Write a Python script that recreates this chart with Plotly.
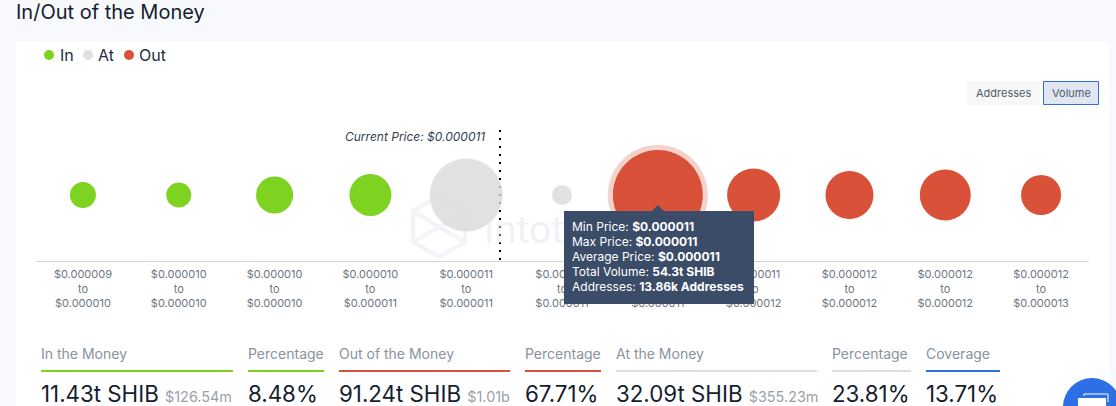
import math

import plotly.graph_objects as go

W, H = 1116, 406

bin_labels = [
    "$0.000009<br>to<br>$0.000010",
    "$0.000010<br>to<br>$0.000010",
    "$0.000010<br>to<br>$0.000010",
    "$0.000010<br>to<br>$0.000011",
    "$0.000011<br>to<br>$0.000011",
    "$0.000011<br>to<br>$0.000011",
    "$0.000011<br>to<br>$0.000011",
    "$0.000011<br>to<br>$0.000012",
    "$0.000012<br>to<br>$0.000012",
    "$0.000012<br>to<br>$0.000012",
    "$0.000012<br>to<br>$0.000013",
]
# volume per price bin, trillions of SHIB
volumes = [0.88, 0.70, 4.2, 6.5, 32.0, 0.1, 54.3, 13.4, 9.9, 11.9, 5.5]
groups = ["In", "In", "In", "In", "At", "At", "Out", "Out", "Out", "Out", "Out"]
hovered_bin = 6

group_colors = {"In": "#7ed321", "At": "rgba(217,217,217,0.78)", "Out": "#d95138"}

tooltip_lines = [
    ("Min Price: ", "$0.000011"),
    ("Max Price: ", "$0.000011"),
    ("Average Price: ", "$0.000011"),
    ("Total Volume: ", "54.3t SHIB"),
    ("Addresses: ", "13.86k Addresses"),
]

# label, value, usd, colour, left and right end of the underline
stats = [
    ("In the Money", "11.43t SHIB", "$126.54m", "#7ed321", 41, 233),
    ("Percentage", "8.48%", "", "#7ed321", 248, 324),
    ("Out of the Money", "91.24t SHIB", "$1.01b", "#d95138", 339, 510),
    ("Percentage", "67.71%", "", "#d95138", 525, 601),
    ("At the Money", "32.09t SHIB", "$355.23m", "#dddddd", 616, 817),
    ("Percentage", "23.81%", "", "#dddddd", 832, 911),
    ("Coverage", "13.71%", "", "#2e6fe6", 926, 1000),
]


def px_x(x):
    return x / W


def px_y(y):
    return 1 - y / H


def bubble_size(v):
    return 16.7 + 9.94 * math.sqrt(v)


def add_text(fig, x, y, text, size, color, anchor="left", **font):
    fig.add_annotation(
        x=px_x(x), y=px_y(y), xref="paper", yref="paper",
        text=text, showarrow=False, xanchor=anchor, yanchor="middle",
        align=anchor, font=dict(size=size, color=color, family="Inter", **font),
    )


def add_rect(fig, x0, y0, x1, y1, fill, line=None, layer="below"):
    fig.add_shape(
        type="rect", xref="paper", yref="paper", layer=layer,
        x0=px_x(x0), x1=px_x(x1), y0=px_y(y0), y1=px_y(y1),
        fillcolor=fill, line=dict(color=line, width=1) if line else dict(width=0),
    )


def add_path(fig, points, fill="rgba(0,0,0,0)", line=None, layer="below", close=True):
    path = "M " + " L ".join(f"{px_x(x):.5f},{px_y(y):.5f}" for x, y in points)
    if close:
        path += " Z"
    fig.add_shape(
        type="path", xref="paper", yref="paper", layer=layer, path=path,
        fillcolor=fill, line=line or dict(width=0),
    )


fig = go.Figure()

for group in ["In", "At", "Out"]:
    idx = [i for i, g in enumerate(groups) if g == group]
    fig.add_trace(go.Scatter(
        x=idx,
        y=[0] * len(idx),
        mode="markers",
        name=group,
        showlegend=False,
        marker=dict(
            color=group_colors[group],
            opacity=1,
            size=[bubble_size(volumes[i]) for i in idx],
            # stroke is centred on the edge, so 10 leaves a 5px ring outside
            line=dict(
                color="rgba(217,81,56,0.25)",
                width=[10 if i == hovered_bin else 0 for i in idx],
            ),
        ),
    ))

fig.update_layout(
    width=W, height=H,
    margin=dict(l=0, r=0, t=0, b=0),
    paper_bgcolor="#f8f9fd",
    plot_bgcolor="rgba(0,0,0,0)",
    font=dict(family="Inter"),
    xaxis=dict(
        domain=[px_x(36), px_x(1089)],
        range=[-0.49, 10.5],
        tickmode="array",
        tickvals=list(range(len(bin_labels))),
        ticktext=bin_labels,
        tickfont=dict(size=11, color="#6e7680"),
        ticks="outside", ticklen=3, tickcolor="rgba(0,0,0,0)",
        showgrid=False, zeroline=False,
        showline=True, linecolor="#ccd6eb", linewidth=1,
        tickangle=0,
    ),
    yaxis=dict(
        domain=[px_y(261), px_y(129)],
        range=[-1, 1],
        visible=False,
    ),
)

# white card
add_rect(fig, 16, 42, 1109, 406, "#ffffff")

# watermark
logo_line = dict(color="#f3f4f8", width=4)
add_path(fig, [(439, 196), (465, 211), (465, 242), (439, 257), (413, 242), (413, 211)], line=logo_line)
add_path(fig, [(413, 211), (439, 227), (465, 211)], line=logo_line, close=False)
add_path(fig, [(413, 242), (439, 227), (465, 242)], line=logo_line, close=False)
add_text(fig, 482, 229, "Intot", 38, "rgba(225,228,240,0.5)")

# legend
for x, text_x, group in zip([49, 88, 129], [58, 96, 137], ["In", "At", "Out"]):
    fig.add_shape(
        type="circle", xref="paper", yref="paper",
        x0=px_x(x - 5), x1=px_x(x + 5), y0=px_y(60), y1=px_y(50),
        fillcolor=group_colors[group], line=dict(width=0),
    )
    add_text(fig, text_x, 55, group, 16, "#1f2d3d")

# page title
add_text(fig, 14, 12, "In/Out of the Money", 20, "#14202e")

# toggle buttons
add_rect(fig, 967, 81, 1040, 105, "#f7f7f7")
add_text(fig, 1003, 93, "Addresses", 11, "#4f5b6b", anchor="center")
add_rect(fig, 1043.5, 81.5, 1098.5, 104.5, "#e1e6f2", line="#2e6fe6")
add_text(fig, 1071, 93, "Volume", 11, "#4f5b6b", anchor="center")

# current price marker, under the bubbles
fig.add_shape(
    type="line", xref="paper", yref="paper", layer="below",
    x0=px_x(500), x1=px_x(500), y0=px_y(130), y1=px_y(261),
    line=dict(color="#000000", width=2, dash="2px,6px"),
)
add_text(fig, 487, 136, "Current Price: $0.000011", 12, "#333f4d", anchor="right", style="italic")

# tooltip
add_path(
    fig,
    [(564, 211), (652, 211), (658, 205), (664, 211), (754, 211), (754, 304), (564, 304)],
    fill="#3a4c68", layer="above",
)
for i, (name, value) in enumerate(tooltip_lines):
    add_text(fig, 570, 226 + i * 15, f"{name}<b>{value}</b>", 12, "#ffffff")

# stats row
for label, value, usd, color, x0, x1 in stats:
    add_text(fig, x0 - 2, 353, label, 14, "#8a929c")
    add_rect(fig, x0, 370, x1, 372, color)
    text = value
    if usd:
        text += f' <span style="font-size:14.4px;color:#9aa1aa">{usd}</span>'
    add_text(fig, x0 - 2, 393, text, 22.3, "#14202e")

# chat button, cut off by the window
fig.add_shape(
    type="circle", xref="paper", yref="paper", layer="above",
    x0=px_x(1063), x1=px_x(1121), y0=px_y(436), y1=px_y(378),
    fillcolor="#2e6fe6", line=dict(width=0),
)
add_path(fig, [(1078, 398), (1106, 398), (1106, 406), (1078, 406)], fill="#ffffff", layer="above")
add_path(
    fig, [(1084, 396), (1084, 394), (1108, 394), (1108, 402)],
    line=dict(color="#ffffff", width=1), layer="above", close=False,
)

fig.write_html(
    "out.html",
    config={"displayModeBar": False},
    post_script="document.body.style.margin = '0';",
)
